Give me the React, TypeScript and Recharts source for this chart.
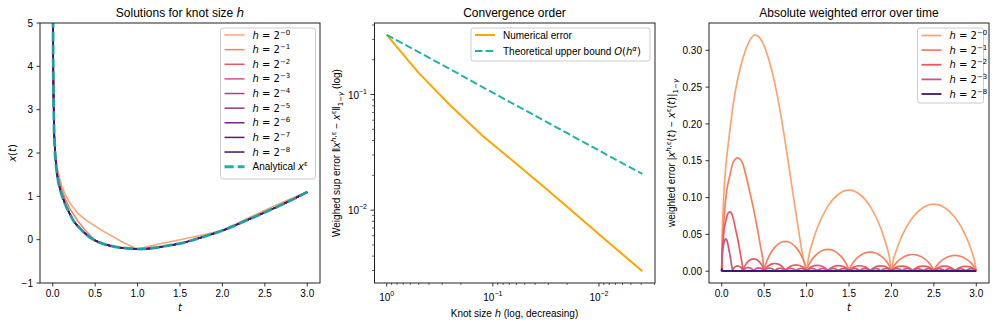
import React from 'react';
import { LineChart, Line, XAxis, YAxis } from 'recharts';

const SANS = "'Liberation Sans', Arial, Helvetica, sans-serif";
const MATH = "'DejaVu Sans', sans-serif";
const TEAL = '#20b2aa';
const ORANGE = '#ffa500';

// knot sizes h = 2^-k
const hExp = [0, 1, 2, 3, 4, 5, 6, 7, 8];
const hValues = [1, 0.5, 0.25, 0.125, 0.0625, 0.03125, 0.015625, 0.0078125, 0.00390625];
const hColors = ['#fca572', '#f8805f', '#ec5862', '#d4547d', '#b63c7e', '#983189', '#772686', '#541a74', '#3c1773'];

// ---- panel 1: solutions x(t), pairs [t, x] ----
const analyticalX = [
  [0.001, 10], [0.004, 5.0], [0.008, 3.6], [0.015, 2.65], [0.025, 2.1], [0.04, 1.7], [0.06, 1.4],
  [0.09, 1.14], [0.125, 0.93], [0.16, 0.76], [0.2, 0.6], [0.25, 0.42], [0.306, 0.29], [0.4, 0.11],
  [0.5, -0.02], [0.6, -0.1], [0.7, -0.15], [0.8, -0.185], [0.9, -0.205], [1.0, -0.215], [1.1, -0.21],
  [1.2, -0.19], [1.31, -0.155], [1.4, -0.125], [1.5, -0.09], [1.6, -0.04], [1.7, 0.02], [1.85, 0.11],
  [2.0, 0.21], [2.15, 0.33], [2.29, 0.45], [2.5, 0.63], [2.68, 0.79], [2.85, 0.95], [3.0, 1.1],
];
const solH0 = [
  [0.001, 10], [0.004, 5.0], [0.008, 3.62], [0.015, 2.7], [0.025, 2.2], [0.04, 1.85], [0.06, 1.6],
  [0.1, 1.28], [0.15, 1.03], [0.2, 0.85], [0.3, 0.6], [0.4, 0.44], [0.5, 0.31], [0.6, 0.19],
  [0.7, 0.08], [0.8, -0.03], [0.9, -0.13], [1.0, -0.215], [1.25, -0.1], [1.5, 0.0], [1.75, 0.1],
  [2.0, 0.21], [2.25, 0.45], [2.5, 0.68], [2.75, 0.9], [3.0, 1.1],
];
const solH1 = [
  [0.001, 10], [0.004, 5.0], [0.008, 3.61], [0.015, 2.68], [0.025, 2.16], [0.04, 1.78], [0.06, 1.5],
  [0.1, 1.2], [0.15, 0.93], [0.2, 0.72], [0.3, 0.42], [0.4, 0.18], [0.5, -0.02], [0.6, -0.09],
  [0.75, -0.165], [0.9, -0.2], [1.0, -0.215], [1.25, -0.16], [1.5, -0.085], [1.75, 0.055],
  [2.0, 0.21], [2.25, 0.425], [2.5, 0.64], [2.75, 0.85], [3.0, 1.1],
];
const solH2 = [
  [0.001, 10], [0.004, 5.0], [0.008, 3.6], [0.015, 2.66], [0.025, 2.12], [0.04, 1.74], [0.06, 1.45],
  [0.09, 1.18], [0.125, 0.97], [0.16, 0.8], [0.2, 0.62], [0.25, 0.42], ...analyticalX.slice(12),
];
// finer knots sit on top of the analytical curve
const solutions = [solH0, solH1, solH2, analyticalX, analyticalX, analyticalX, analyticalX, analyticalX, analyticalX];

// ---- panel 2: convergence ----
const numericalError = [0.329, 0.154, 0.08, 0.044, 0.026, 0.0152, 0.0088, 0.0051, 0.00296];
const upperBound = [0.329, 0.233, 0.165, 0.116, 0.082, 0.058, 0.041, 0.029, 0.0206];

// ---- panel 3: weighted error, pairs [t, err] ----
const errFirstH0 = [
  [0, 0], [0.005, 0.045], [0.015, 0.08], [0.03, 0.115], [0.05, 0.145], [0.07, 0.166], [0.1, 0.195],
  [0.14, 0.23], [0.19, 0.262], [0.247, 0.288], [0.3, 0.306], [0.35, 0.317], [0.388, 0.321],
  [0.43, 0.319], [0.48, 0.311], [0.553, 0.288], [0.61, 0.263], [0.659, 0.236], [0.71, 0.203],
  [0.753, 0.172], [0.8, 0.136], [0.847, 0.1], [0.9, 0.06], [0.941, 0.03], [0.97, 0.013], [1, 0],
];
const errFirstH1 = [
  [0, 0], [0.002, 0.02], [0.006, 0.036], [0.0125, 0.05], [0.024, 0.066], [0.043, 0.094], [0.06, 0.11],
  [0.096, 0.13], [0.135, 0.148], [0.19, 0.154], [0.225, 0.151], [0.25, 0.145], [0.29, 0.128],
  [0.33, 0.108], [0.38, 0.082], [0.42, 0.058], [0.46, 0.032], [0.485, 0.016], [0.5, 0],
];
const errFirstH2 = [
  [0, 0], [0.001, 0.01], [0.003, 0.019], [0.006, 0.026], [0.012, 0.035], [0.022, 0.049], [0.03, 0.058],
  [0.048, 0.068], [0.068, 0.077], [0.092, 0.0805], [0.113, 0.079], [0.125, 0.076], [0.145, 0.067],
  [0.165, 0.056], [0.19, 0.043], [0.21, 0.03], [0.23, 0.017], [0.243, 0.008], [0.25, 0],
];
const errFirstH3 = [
  [0, 0], [0.0005, 0.0055], [0.0015, 0.0104], [0.003, 0.0142], [0.006, 0.019], [0.011, 0.027],
  [0.015, 0.032], [0.024, 0.037], [0.034, 0.042], [0.046, 0.044], [0.056, 0.0432], [0.0625, 0.0415],
  [0.0725, 0.0367], [0.0825, 0.0306], [0.095, 0.0235], [0.105, 0.0164], [0.115, 0.0093],
  [0.1215, 0.0044], [0.125, 0],
];
const errFirstH8 = [[0, 0], [0.0015, 0.003], [0.004, 0.0002], [3.0, 0.0002]];
const archShape = [
  [0, 0], [0.02, 0.15], [0.06, 0.32], [0.125, 0.53], [0.25, 0.8], [0.375, 0.95], [0.5, 1],
  [0.625, 0.95], [0.75, 0.8], [0.875, 0.53], [0.94, 0.32], [0.98, 0.15], [1, 0],
];
// arch peaks after the first interval
const peaksH0 = [0.11, 0.091];
const peaksH1 = [0.0405, 0.0296, 0.026, 0.0227, 0.0214];
const peaksH2 = [0.0168, 0.0105, 0.0085, 0.008, 0.0077, 0.0074, 0.0072, 0.007, 0.0069, 0.0068, 0.0067];
const peaksH3 = [
  0.0072, 0.005, 0.0045, 0.0042, 0.004, 0.0039, 0.0038, 0.0038, 0.0037, 0.0037, 0.0036, 0.0036,
  0.0036, 0.0035, 0.0035, 0.0035, 0.0035, 0.0034, 0.0034, 0.0034, 0.0034, 0.0034, 0.0034,
];
const errShown = [0, 1, 2, 3, 8];

const pts = (a: number[][]) => a.map(([t, v]) => ({ t, v }));

function errSeries(first: number[][], h: number, peaks: number[]) {
  const out = pts(first);
  peaks.forEach((p, i) => {
    const t0 = h * (i + 1);
    archShape.slice(1).forEach(([s, r]) => out.push({ t: t0 + s * h, v: p * r }));
  });
  return out;
}

const errData = [
  errSeries(errFirstH0, 1, peaksH0),
  errSeries(errFirstH1, 0.5, peaksH1),
  errSeries(errFirstH2, 0.25, peaksH2),
  errSeries(errFirstH3, 0.125, peaksH3),
  pts(errFirstH8),
];

const convData = hValues.map((h, i) => ({ h, err: numericalError[i], bound: upperBound[i] }));

const tTicks = [0, 0.5, 1, 1.5, 2, 2.5, 3];
const xTicksP1 = [-1, 0, 1, 2, 3, 4, 5];
const errTicks = [0, 0.05, 0.1, 0.15, 0.2, 0.25, 0.3];
const decades = [1, 0.1, 0.01];
const decadeLabels = ['0', '\u22121', '\u22122'];
const logXTicks = [
  0.003, 0.004, 0.005, 0.006, 0.007, 0.008, 0.009, 0.01, 0.02, 0.03, 0.04, 0.05, 0.06, 0.07, 0.08,
  0.09, 0.1, 0.2, 0.3, 0.4, 0.5, 0.6, 0.7, 0.8, 0.9, 1,
];
const logYTicks = [
  0.003, 0.004, 0.005, 0.006, 0.007, 0.008, 0.009, 0.01, 0.02, 0.03, 0.04, 0.05, 0.06, 0.07, 0.08,
  0.09, 0.1, 0.2, 0.3, 0.4,
];

const minus = (s: string) => s.replace('-', '\u2212');

const xTick = (fmt: (v: number) => string) => (p: any) => (
  <g>
    <line x1={p.x} x2={p.x} y1={p.y} y2={p.y + 3.5} stroke="#000" strokeWidth={0.8} />
    <text x={p.x} y={p.y + 14.2} textAnchor="middle" fontSize={10} fontFamily={SANS} fill="#000">
      {fmt(p.payload.value)}
    </text>
  </g>
);

const yTick = (fmt: (v: number) => string) => (p: any) => (
  <g>
    <line x1={p.x} x2={p.x - 3.5} y1={p.y} y2={p.y} stroke="#000" strokeWidth={0.8} />
    <text x={p.x - 7} y={p.y + 3.6} textAnchor="end" fontSize={10} fontFamily={SANS} fill="#000">
      {fmt(p.payload.value)}
    </text>
  </g>
);

const logXTick = (p: any) => {
  const k = decades.indexOf(p.payload.value);
  return (
    <g>
      <line x1={p.x} x2={p.x} y1={p.y} y2={p.y + (k >= 0 ? 3.5 : 2)} stroke="#000" strokeWidth={k >= 0 ? 0.8 : 0.6} />
      {k >= 0 && (
        <text x={p.x} y={p.y + 18} textAnchor="middle" fontSize={10} fontFamily={SANS} fill="#000">
          10<tspan dy={-5} fontSize={7}>{decadeLabels[k]}</tspan>
        </text>
      )}
    </g>
  );
};

const logYTick = (p: any) => {
  const k = decades.indexOf(p.payload.value);
  return (
    <g>
      <line x1={p.x} x2={p.x - (k >= 0 ? 3.5 : 2)} y1={p.y} y2={p.y} stroke="#000" strokeWidth={k >= 0 ? 0.8 : 0.6} />
      {k >= 0 && (
        <text x={p.x - 7} y={p.y + 4} textAnchor="end" fontSize={10} fontFamily={SANS} fill="#000">
          10<tspan dy={-5} fontSize={7}>{decadeLabels[k]}</tspan>
        </text>
      )}
    </g>
  );
};

const axisOff = { tickLine: false, axisLine: false, tickSize: 0, tickMargin: 0, interval: 0 as const };

const I = ({ children }: { children: React.ReactNode }) => (
  <tspan fontFamily={MATH} fontStyle="italic">{children}</tspan>
);

function HLabel({ k, x, y }: { k: number; x: number; y: number }) {
  return (
    <text x={x} y={y} fontSize={10} fontFamily={MATH} fill="#000">
      <tspan fontStyle="italic">h</tspan>
      <tspan>{' = 2'}</tspan>
      <tspan dy={-4} fontSize={7}>{'\u2212' + k}</tspan>
    </text>
  );
}

function Overlay() {
  const row = 14.63;
  return (
    <svg width={996} height={327} style={{ position: 'absolute', left: 0, top: 0, pointerEvents: 'none' }}>
      {/* frames */}
      <rect x={40} y={23} width={280} height={260} fill="none" stroke="#222" strokeWidth={1} />
      <rect x={374.5} y={23} width={280.5} height={260} fill="none" stroke="#222" strokeWidth={1} />
      <rect x={709} y={23} width={280} height={260} fill="none" stroke="#222" strokeWidth={1} />

      {/* titles */}
      <text x={180} y={17} textAnchor="middle" fontSize={12} fontFamily={SANS}>
        Solutions for knot size <I>h</I>
      </text>
      <text x={514.5} y={17} textAnchor="middle" fontSize={12} fontFamily={SANS}>Convergence order</text>
      <text x={849} y={17} textAnchor="middle" fontSize={12} fontFamily={SANS}>Absolute weighted error over time</text>

      {/* axis labels */}
      <text x={180} y={311} textAnchor="middle" fontSize={10}><I>t</I></text>
      <text transform="rotate(-90)" x={-153} y={15.5} textAnchor="middle" fontSize={10} fontFamily={MATH}>
        <I>x</I>(<I>t</I>)
      </text>
      <text x={514.5} y={316.5} textAnchor="middle" fontSize={10} fontFamily={SANS}>
        Knot size <I>h</I> (log, decreasing)
      </text>
      <text transform="rotate(-90)" x={-153} y={340} textAnchor="middle" fontSize={10} fontFamily={SANS}>
        Weighed sup error {'\u2016'}<I>x</I>
        <tspan dy={-4} fontSize={7} fontFamily={MATH}><tspan fontStyle="italic">h</tspan>,ε</tspan>
        <tspan dy={4}>{' \u2212 '}</tspan><I>x</I>
        <tspan dy={-4} fontSize={7} fontFamily={MATH}>ε</tspan>
        <tspan dy={4}>{'\u2016'}</tspan>
        <tspan dy={2.5} fontSize={7} fontFamily={MATH}>1−<tspan fontStyle="italic">γ</tspan></tspan>
        <tspan dy={-2.5}> (log)</tspan>
      </text>
      <text x={849} y={311} textAnchor="middle" fontSize={10}><I>t</I></text>
      <text transform="rotate(-90)" x={-153} y={675} textAnchor="middle" fontSize={10} fontFamily={SANS}>
        weighted error |<I>x</I>
        <tspan dy={-4} fontSize={7} fontFamily={MATH}><tspan fontStyle="italic">h</tspan>,ε</tspan>
        <tspan dy={4} fontFamily={MATH}>(<tspan fontStyle="italic">t</tspan>)</tspan>
        <tspan>{' \u2212 '}</tspan><I>x</I>
        <tspan dy={-4} fontSize={7} fontFamily={MATH}>ε</tspan>
        <tspan dy={4} fontFamily={MATH}>(<tspan fontStyle="italic">t</tspan>)|</tspan>
        <tspan dy={2.5} fontSize={7} fontFamily={MATH}>1−<tspan fontStyle="italic">γ</tspan></tspan>
      </text>

      {/* legend panel 1 */}
      <rect x={220.5} y={28} width={95} height={151} rx={2.5} fill="#fff" fillOpacity={0.8} stroke="#ccc" />
      {hExp.map((k, i) => {
        const cy = 35 + i * row;
        return (
          <g key={'l1' + k}>
            <line x1={224.5} x2={244.5} y1={cy} y2={cy} stroke={hColors[i]} strokeWidth={1.5} />
            <HLabel k={k} x={252.5} y={cy + 3.5} />
          </g>
        );
      })}
      <line x1={224.5} x2={244.5} y1={35 + 9 * row} y2={35 + 9 * row} stroke={TEAL} strokeWidth={3} strokeDasharray="9.25 4" />
      <text x={252.5} y={35 + 9 * row + 3.5} fontSize={10} fontFamily={SANS}>
        Analytical <I>x</I><tspan dy={-4} fontSize={7} fontFamily={MATH}>ε</tspan>
      </text>

      {/* legend panel 2 */}
      <rect x={471} y={28} width={179} height={33} rx={2.5} fill="#fff" fillOpacity={0.8} stroke="#ccc" />
      <line x1={475} x2={495} y1={35} y2={35} stroke={ORANGE} strokeWidth={2} />
      <text x={503} y={38.5} fontSize={10} fontFamily={SANS}>Numerical error</text>
      <line x1={475} x2={495} y1={51} y2={51} stroke={TEAL} strokeWidth={2} strokeDasharray="7.4 3.2" />
      <text x={503} y={54.5} fontSize={10} fontFamily={SANS}>
        Theoretical upper bound <tspan fontFamily={MATH}><tspan fontStyle="italic">O</tspan>(<tspan fontStyle="italic">h</tspan></tspan>
        <tspan dy={-4} fontSize={7} fontFamily={MATH} fontStyle="italic">α</tspan>
        <tspan dy={4} fontFamily={MATH}>)</tspan>
      </text>

      {/* legend panel 3 */}
      <rect x={917.5} y={28} width={66} height={75} rx={2.5} fill="#fff" fillOpacity={0.8} stroke="#ccc" />
      {errShown.map((k, i) => {
        const cy = 35.5 + i * row;
        return (
          <g key={'l3' + k}>
            <line x1={921.5} x2={941.5} y1={cy} y2={cy} stroke={hColors[k]} strokeWidth={1.8} />
            <HLabel k={k} x={949.5} y={cy + 3.5} />
          </g>
        );
      })}
    </svg>
  );
}

export default function App() {
  return (
    <div style={{ position: 'absolute', left: 0, top: 0, width: 996, height: 327, background: '#fff', fontFamily: SANS }}>
      <div style={{ position: 'absolute', left: 0, top: 0 }}>
        <LineChart width={330} height={327} margin={{ top: 23, right: 10, bottom: 0, left: 0 }}>
          <XAxis type="number" dataKey="t" domain={[-0.15, 3.15]} ticks={tTicks} allowDataOverflow height={44}
            tick={xTick((v) => v.toFixed(1))} {...axisOff} />
          <YAxis type="number" domain={[-1, 5]} ticks={xTicksP1} allowDataOverflow width={40}
            tick={yTick((v) => minus(String(v)))} {...axisOff} />
          {solutions.map((s, i) => (
            <Line key={'s' + i} data={pts(s)} dataKey="v" type={i < 3 ? 'linear' : 'monotone'} stroke={hColors[i]}
              strokeWidth={1.5} dot={false} isAnimationActive={false} />
          ))}
          <Line data={pts(analyticalX)} dataKey="v" type="monotone" stroke={TEAL} strokeOpacity={0.85} strokeWidth={3}
            strokeDasharray="9.25 4" dot={false} isAnimationActive={false} />
        </LineChart>
      </div>
      <div style={{ position: 'absolute', left: 330, top: 0 }}>
        <LineChart width={330} height={327} data={convData} margin={{ top: 23, right: 5, bottom: 0, left: 0 }}>
          <XAxis type="number" dataKey="h" scale="log" domain={[0.002965, 1.318]} reversed allowDataOverflow
            ticks={logXTicks} height={44} tick={logXTick} {...axisOff} />
          <YAxis type="number" scale="log" domain={[0.00234, 0.416]} allowDataOverflow ticks={logYTicks}
            width={44} tick={logYTick} {...axisOff} />
          <Line dataKey="err" type="linear" stroke={ORANGE} strokeWidth={2} dot={false} isAnimationActive={false} />
          <Line dataKey="bound" type="linear" stroke={TEAL} strokeWidth={2} strokeDasharray="7.4 3.2" dot={false}
            isAnimationActive={false} />
        </LineChart>
      </div>
      <div style={{ position: 'absolute', left: 660, top: 0 }}>
        <LineChart width={336} height={327} margin={{ top: 23, right: 7, bottom: 0, left: 0 }}>
          <XAxis type="number" dataKey="t" domain={[-0.15, 3.15]} ticks={tTicks} allowDataOverflow height={44}
            tick={xTick((v) => v.toFixed(1))} {...axisOff} />
          <YAxis type="number" domain={[-0.016, 0.337]} ticks={errTicks} allowDataOverflow width={49}
            tick={yTick((v) => v.toFixed(2))} {...axisOff} />
          {errData.map((d, i) => (
            <Line key={'e' + i} data={d} dataKey="v" type="monotone" stroke={hColors[errShown[i]]}
              strokeWidth={i === 4 ? 2 : 1.7} dot={false} isAnimationActive={false} />
          ))}
        </LineChart>
      </div>
      <Overlay />
    </div>
  );
}
